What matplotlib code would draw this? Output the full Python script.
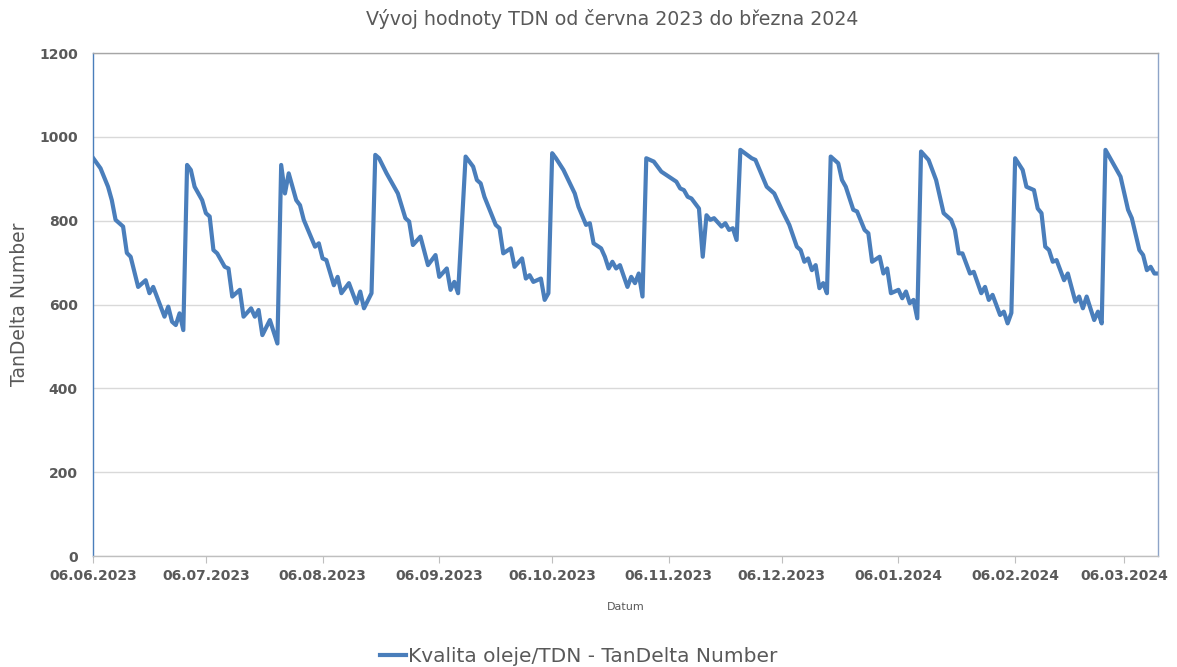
import datetime as dt
import matplotlib
matplotlib.use("Agg")
import matplotlib.pyplot as plt
import matplotlib.dates as mdates

start = dt.date(2023, 6, 6)
end_day = 283

# day offset from 06.06.2023 and TDN value
days = [0, 2, 4, 5, 6, 8, 9, 10, 12, 14, 15, 16, 19, 20, 21, 22, 23, 24,
        25, 26, 27, 29, 30, 31, 32, 33, 35, 36, 37, 39, 40, 42, 43, 44, 45, 47, 49,
        50, 51, 52, 54, 55, 56, 59, 60, 61, 62, 64, 65, 66, 68, 70, 71, 72, 74,
        75, 76, 78, 81, 83, 84, 85, 87, 89, 91, 92, 94, 95, 96, 97,
        99, 101, 102, 103, 104, 107, 108, 109, 111, 112, 114, 115, 116, 117, 119, 120, 121,
        122, 123, 125, 128, 129, 131, 132, 133, 135, 136, 137, 138, 139, 140, 142, 143, 144, 145, 146,
        147, 149, 151, 155, 156, 157, 158, 159, 160, 161, 162, 163, 164, 165, 167, 168, 169, 170, 171,
        172, 175, 176, 179, 181, 183, 185, 187, 188, 189, 190, 191, 192, 193, 194, 195,
        196, 198, 199, 200, 202, 203, 205, 206, 207, 209, 210, 211, 212, 214, 215, 216, 217, 218, 219,
        220, 222, 224, 226, 228, 229, 230, 231, 233, 234, 236, 237, 238, 239, 241, 242, 243, 244,
        245, 247, 248, 250, 251, 252, 253, 254, 255, 256, 258, 259, 261, 262, 263, 264, 266, 267, 268,
        269, 270, 272, 273, 274, 275, 276, 278, 279, 280, 281, 282, 283]
tdn = [950, 925, 881, 849, 802, 786, 723, 714, 642, 658, 627, 642, 571, 595, 559, 551, 579, 539,
       933, 921, 881, 849, 818, 810, 730, 722, 690, 686, 619, 635, 571, 591, 571, 587, 527, 563, 507,
       933, 865, 913, 849, 837, 802, 738, 746, 710, 706, 646, 666, 627, 651, 603, 631, 591, 627,
       957, 949, 913, 865, 806, 798, 742, 762, 694, 718, 666, 686, 635, 654, 627,
       953, 929, 897, 889, 857, 790, 782, 722, 734, 690, 710, 662, 670, 654, 662, 611, 627,
       961, 949, 921, 865, 833, 790, 794, 746, 734, 714, 686, 702, 686, 694, 642, 666, 651, 674, 619,
       949, 941, 917, 893, 877, 873, 857, 853, 841, 829, 714, 813, 802, 806, 786, 794, 778, 782, 754,
       969, 949, 945, 881, 865, 826, 790, 738, 730, 702, 710, 682, 694, 639, 651, 627,
       953, 937, 897, 881, 826, 822, 778, 770, 702, 714, 674, 686, 627, 635, 615, 631, 603, 611, 567,
       965, 945, 897, 818, 802, 778, 722, 722, 674, 678, 627, 642, 611, 623, 575, 583, 555, 580,
       949, 921, 881, 873, 829, 818, 738, 730, 702, 706, 658, 674, 607, 619, 591, 619, 563, 583, 555,
       969, 953, 921, 905, 865, 826, 806, 730, 718, 682, 690, 674, 674]

dates = [start + dt.timedelta(days=d) for d in days]
tick_dates = [dt.date(2023, m, 6) for m in range(6, 13)] + [dt.date(2024, m, 6) for m in range(1, 4)]
yticks = [0, 200, 400, 600, 800, 1000, 1200]

grey = "#595959"
blue = "#4A7EBB"

fig = plt.figure(figsize=(11.77, 6.67), dpi=100)
ax = fig.add_axes([0.079, 0.1664, 0.905, 0.7541])

ax.plot(dates, tdn, color=blue, lw=3.0, solid_joinstyle="round",
        label="Kvalita oleje/TDN - TanDelta Number")

ax.set_xlim(start, start + dt.timedelta(days=end_day))
ax.set_ylim(0, 1200)
ax.set_yticks(yticks)
ax.set_xticks(tick_dates)
ax.xaxis.set_major_formatter(mdates.DateFormatter("%d.%m.%Y"))
ax.grid(axis="y", color="#D9D9D9", lw=1)
ax.set_axisbelow(True)

for lab in ax.get_xticklabels() + ax.get_yticklabels():
    lab.set_fontweight("bold")
    lab.set_color(grey)
    lab.set_fontsize(10)
ax.tick_params(axis="y", length=0, pad=11)
ax.tick_params(axis="x", length=5, color="#BFBFBF", pad=4, direction="out")

ax.spines["left"].set_color(blue)
ax.spines["right"].set_color("#8EA4C8")
ax.spines["top"].set_color("#A6A6A6")
ax.spines["bottom"].set_color("#BFBFBF")
for s in ax.spines.values():
    s.set_linewidth(1)

ax.set_ylabel("TanDelta Number", fontsize=13.5, color=grey, labelpad=7)
ax.set_xlabel("Datum", fontsize=8, color=grey, labelpad=14)
fig.text(0.52, 0.972, "Vývoj hodnoty TDN od června 2023 do března 2024",
         ha="center", va="center", fontsize=13.7, color=grey)

fig.legend(loc="center", bbox_to_anchor=(0.492, 0.016), frameon=False, fontsize=14.5,
           handlelength=1.3, handletextpad=0.1, labelcolor=grey)

fig.savefig("out.png", dpi=100)
